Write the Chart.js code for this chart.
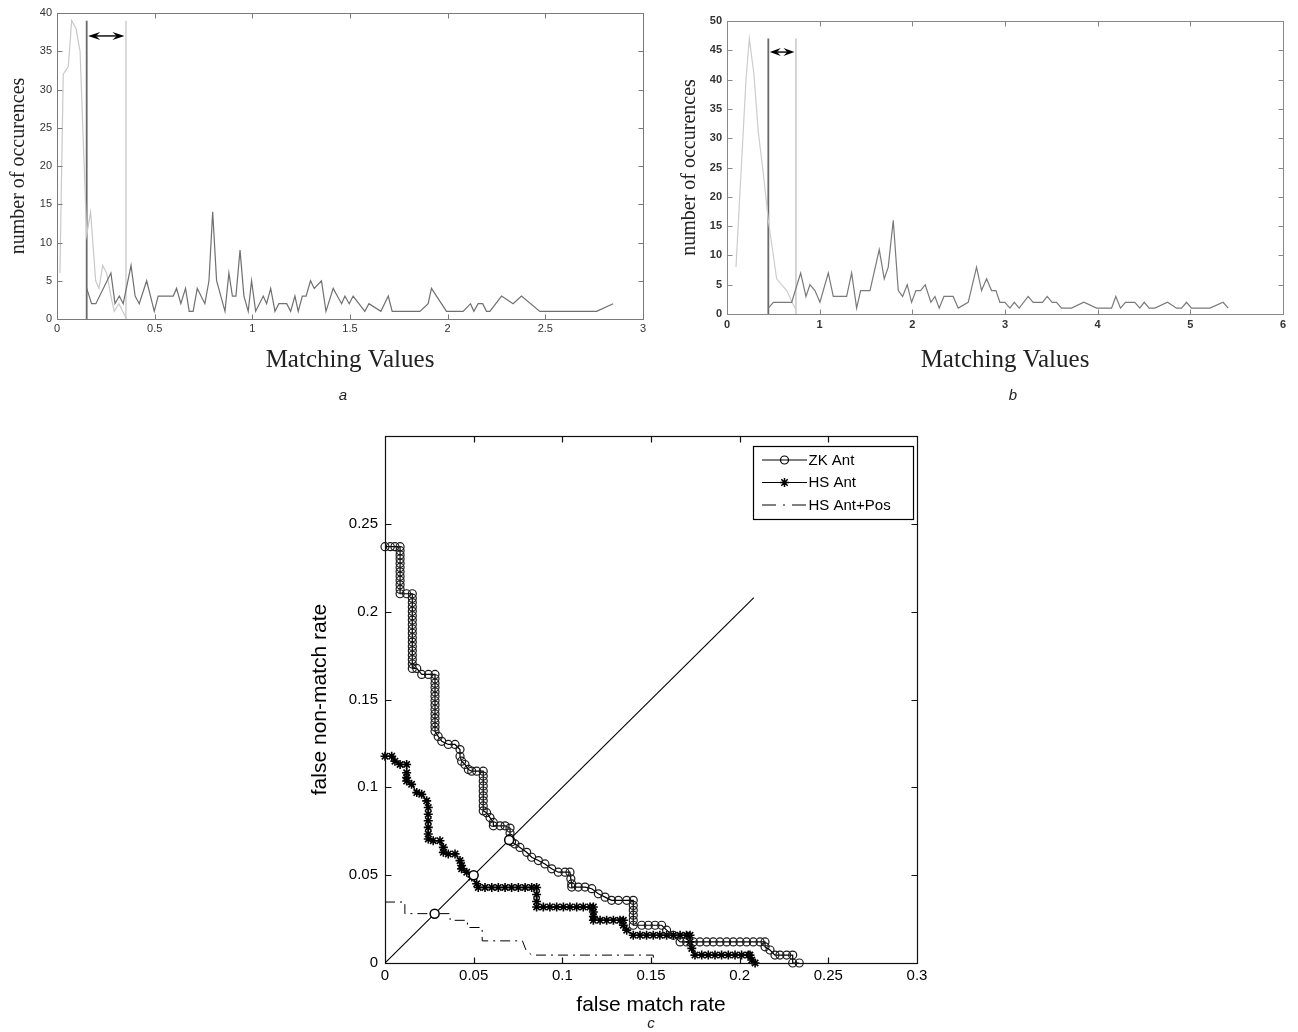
<!DOCTYPE html>
<html><head><meta charset="utf-8">
<script src="https://cdn.jsdelivr.net/npm/chart.js@4.4.1/dist/chart.umd.min.js"></script>
<style>
html,body{margin:0;padding:0;background:#fff;width:1298px;height:1032px;overflow:hidden;position:relative;}
.box{position:absolute;}
.lab{position:absolute;font-family:"Liberation Sans",Arial,sans-serif;font-style:italic;font-size:15px;color:#222;transform:translateX(-50%);line-height:18px;}
</style></head><body>
<div class="box" style="left:0;top:0;width:670px;height:410px"><canvas id="ca"></canvas></div>
<div class="box" style="left:670px;top:0;width:628px;height:410px"><canvas id="cb"></canvas></div>
<div class="box" style="left:290px;top:420px;width:650px;height:612px"><canvas id="cc"></canvas></div>
<div class="lab" style="left:343px;top:386px">a</div>
<div class="lab" style="left:1013px;top:386px">b</div>
<div class="lab" style="left:651px;top:1014px">c</div>
<script>
// ---------- Panel a data ----------
const aLightX = [0.015,0.032,0.058,0.075,0.097,0.118,0.152,0.172,0.198,0.215,0.234,0.254,0.276,0.293,0.317,0.336,0.356];
const aLightY = [6,32,33,39,38,35,11,14,5,4,7,6,3,1,2,1,0];
const aDarkX = [0.152,0.177,0.199,0.276,0.297,0.319,0.339,0.379,0.4,0.421,0.459,0.498,0.518,0.595,0.612,0.634,0.658,0.677,0.697,0.718,0.757,0.778,0.797,0.817,0.86,0.88,0.898,0.916,0.937,0.957,0.979,0.996,1.017,1.056,1.073,1.094,1.116,1.136,1.176,1.196,1.218,1.235,1.256,1.275,1.298,1.317,1.354,1.377,1.414,1.435,1.457,1.474,1.496,1.516,1.576,1.597,1.658,1.696,1.716,1.858,1.9,1.917,1.994,2.079,2.117,2.134,2.156,2.179,2.199,2.216,2.276,2.335,2.378,2.472,2.762,2.847];
const aDarkY = [4,2,2,6,2,3,2,7,3,2,5,1,3,3,4,2,4,1,1,4,2,5,14,5,1,6,3,3,9,3,1,5,1,3,2,4,1,2,2,1,3,1,3,3,5,4,5,1,4,3,2,3,2,3,1,2,1,3,1,1,2,4,1,1,2,1,2,2,1,1,3,2,3,1,1,2];
const aThresholds = [0.152, 0.353];
const aThresholdTop = 39;
const aArrowY = 37;
const aXTicks = [0, 3, 0.5];
const aYTicks = [0, 40, 5];

// ---------- Panel b data ----------
const bLightX = [0.097,0.205,0.241,0.29,0.338,0.392,0.446,0.536,0.644,0.734];
const bLightY = [8,40,47,41,31,24,16,6,4,1];
const bDarkX = [0.446,0.5,0.698,0.795,0.852,0.895,0.949,1.003,1.093,1.147,1.291,1.345,1.399,1.442,1.543,1.643,1.697,1.74,1.794,1.848,1.895,1.945,1.992,2.039,2.089,2.139,2.2,2.244,2.29,2.341,2.441,2.495,2.603,2.693,2.747,2.801,2.855,2.902,2.945,2.999,3.053,3.1,3.153,3.25,3.304,3.405,3.455,3.509,3.556,3.61,3.718,3.851,3.988,4.15,4.196,4.246,4.3,4.401,4.455,4.502,4.556,4.617,4.754,4.851,4.905,4.959,5.013,5.21,5.354,5.408];
const bDarkY = [1,2,2,7,3,5,4,2,7,3,3,7,1,4,4,11,6,8,16,4,3,5,2,4,4,5,2,3,1,3,3,1,2,8,4,6,4,4,2,2,1,2,1,3,2,2,3,2,2,1,1,2,1,1,3,1,2,2,1,2,1,1,2,1,1,2,1,1,2,1];
const bThresholds = [0.446, 0.744];
const bThresholdTop = 47;
const bArrowY = 44.7;
const bXTicks = [0, 6, 1];
const bYTicks = [0, 50, 5];

// ---------- Panel c data (false match rate, false non-match rate) ----------
const zkAnt = [[0,0.237],[0.003,0.237],[0.0056,0.237],[0.0085,0.237],
 [0.0085,0.2347],[0.0085,0.2323],[0.0085,0.23],[0.0085,0.2276],[0.0085,0.2252],[0.0085,0.2227],[0.0085,0.2202],[0.0085,0.2178],[0.0085,0.2153],[0.0085,0.2127],[0.0085,0.2102],
 [0.0122,0.2102],[0.0154,0.2102],
 [0.0154,0.2077],[0.0154,0.2052],[0.0154,0.2027],[0.0154,0.2002],[0.0154,0.1977],[0.0154,0.1952],[0.0154,0.1927],[0.0154,0.1902],[0.0154,0.1877],[0.0154,0.1852],[0.0154,0.1827],[0.0154,0.1802],[0.0154,0.1777],[0.0154,0.1752],[0.0154,0.1727],[0.0154,0.1702],[0.0154,0.1677],
 [0.0179,0.1677],[0.0207,0.1643],[0.0245,0.1643],[0.0282,0.1643],
 [0.0282,0.1618],[0.0282,0.1593],[0.0282,0.1568],[0.0282,0.1543],[0.0282,0.1518],[0.0282,0.1493],[0.0282,0.1468],[0.0282,0.1443],[0.0282,0.1418],[0.0282,0.1393],[0.0282,0.1368],[0.0282,0.1343],[0.0282,0.1319],
 [0.03,0.129],[0.032,0.1262],[0.0357,0.1244],[0.0395,0.1244],[0.0423,0.1215],[0.0423,0.1177],[0.0432,0.1149],[0.0451,0.113],[0.047,0.1102],[0.0489,0.1092],[0.0517,0.1092],[0.0554,0.1092],
 [0.0554,0.1064],[0.0554,0.1036],[0.0554,0.1008],[0.0554,0.0979],[0.0554,0.0951],[0.0554,0.0923],[0.0554,0.0894],[0.0554,0.0866],
 [0.0573,0.0856],[0.0592,0.0828],[0.0611,0.08],[0.0611,0.0781],[0.0649,0.0781],[0.0677,0.0781],[0.0705,0.0768],[0.0705,0.074],[0.0705,0.071],[0.0714,0.069],
 [0.0733,0.0678],[0.0761,0.0658],[0.0799,0.063],[0.0827,0.0602],[0.0865,0.0583],[0.0902,0.0564],[0.094,0.0536],[0.0977,0.0517],[0.1015,0.0517],[0.1043,0.0517],[0.1048,0.0479],[0.1053,0.045],[0.1053,0.0432],
 [0.109,0.0432],[0.1128,0.0432],[0.1166,0.0423],[0.1203,0.0394],[0.1241,0.0375],[0.1278,0.0357],[0.1316,0.0357],[0.1363,0.0357],[0.14,0.0357],
 [0.14,0.0328],[0.14,0.03],[0.14,0.0272],[0.14,0.0243],[0.14,0.0215],
 [0.1448,0.0215],[0.1485,0.0215],[0.1523,0.0215],[0.156,0.0215],[0.1588,0.0187],[0.1626,0.0158],[0.1664,0.012],
 [0.1701,0.012],[0.1739,0.012],[0.1776,0.012],[0.1814,0.012],[0.1851,0.012],[0.1889,0.012],[0.1927,0.012],[0.1964,0.012],[0.2002,0.012],[0.2039,0.012],[0.2077,0.012],[0.2115,0.012],[0.2143,0.012],
 [0.2143,0.0092],[0.2171,0.0074],[0.2199,0.0045],[0.2227,0.0045],[0.2265,0.0045],[0.2299,0.0045],[0.2299,0],[0.2336,0]];
const hsAnt = [[0,0.1177],[0.0038,0.1177],[0.0056,0.1149],[0.0085,0.113],[0.0122,0.113],[0.0122,0.1083],[0.0122,0.1055],[0.0122,0.1036],[0.015,0.1017],[0.0179,0.097],[0.0207,0.096],[0.0235,0.0923],
 [0.0244,0.0885],[0.0244,0.0847],[0.0244,0.081],[0.0244,0.0772],[0.0244,0.0734],[0.0244,0.0706],[0.0272,0.0696],[0.031,0.0696],[0.0329,0.0658],[0.0329,0.063],[0.0357,0.0621],[0.0395,0.0621],
 [0.0423,0.0583],[0.0432,0.0555],[0.0432,0.0536],[0.0461,0.0517],[0.049,0.049],[0.0517,0.0451],[0.0526,0.043],
 [0.0564,0.043],[0.0602,0.043],[0.0639,0.043],[0.0677,0.043],[0.0714,0.043],[0.0752,0.043],[0.079,0.043],[0.0827,0.043],[0.0855,0.043],
 [0.0855,0.039],[0.0855,0.035],[0.0855,0.0319],
 [0.0893,0.0319],[0.093,0.0319],[0.0968,0.0319],[0.1006,0.0319],[0.1043,0.0319],[0.1081,0.0319],[0.1118,0.0319],[0.1156,0.0319],[0.1175,0.0319],
 [0.1175,0.029],[0.1175,0.0265],[0.1175,0.0243],
 [0.1213,0.0243],[0.125,0.0243],[0.1288,0.0243],[0.1325,0.0243],[0.1344,0.0243],[0.1344,0.0215],[0.1363,0.0187],[0.14,0.0158],
 [0.1438,0.0158],[0.1475,0.0158],[0.1513,0.0158],[0.155,0.0158],[0.1588,0.0158],[0.1626,0.0158],[0.1664,0.0158],[0.17,0.0158],[0.172,0.0158],
 [0.172,0.012],[0.173,0.0083],[0.1748,0.0045],
 [0.1786,0.0045],[0.1823,0.0045],[0.1861,0.0045],[0.1898,0.0045],[0.1936,0.0045],[0.1974,0.0045],[0.2011,0.0045],[0.2049,0.0045],[0.2058,0.0045],[0.2068,0.0017],[0.2087,0]];
const hsAntPos = [[0,0.0347],[0.0112,0.0347],[0.0112,0.0281],[0.0367,0.0281],[0.0367,0.0243],[0.0465,0.0243],[0.0465,0.0202],[0.0548,0.0202],[0.0548,0.0126],[0.0775,0.0126],[0.0795,0.0074],[0.0827,0.0045],[0.1513,0.0045],[0.1513,0]];
const eerPoints = [[0.028,0.028],[0.05,0.05],[0.07,0.07]];
const diagonal = [[0,0],[0.208,0.208]];
const cLegend = ["ZK Ant","HS Ant","HS Ant+Pos"];
const cXTicks = [0, 0.3, 0.05];
const cYTicks = [0, 0.3, 0.05];

// ---------- helpers ----------
const zip = (xs, ys) => xs.map((v, i) => ({x: v, y: ys[i]}));
const pairs = arr => arr.map(p => ({x: p[0], y: p[1]}));
const vline = (xv, top) => [{x: xv, y: 0}, {x: xv, y: top}];
const fmt = v => String(Math.round(v * 100) / 100);
Chart.defaults.font.family = '"Liberation Sans", Arial, sans-serif';

const framePlugin = {
  id: 'frame',
  afterDraw(chart, args, o) {
    const {ctx, chartArea: a, scales: {x, y}} = chart;
    const L = Math.round(a.left) + 0.5, R = Math.round(a.right) + 0.5, T = Math.round(a.top) + 0.5, B = Math.round(a.bottom) + 0.5;
    ctx.save();
    ctx.strokeStyle = o.color; ctx.lineWidth = o.width;
    ctx.strokeRect(L, T, R - L, B - T);
    ctx.beginPath();
    x.ticks.forEach(t => {
      const p = Math.round(x.getPixelForValue(t.value)) + 0.5;
      if (p <= L + 1 || p >= R - 1) return;
      ctx.moveTo(p, B); ctx.lineTo(p, B - o.len);
      ctx.moveTo(p, T); ctx.lineTo(p, T + o.len);
    });
    y.ticks.forEach(t => {
      const p = Math.round(y.getPixelForValue(t.value)) + 0.5;
      if (p <= T + 1 || p >= B - 1) return;
      ctx.moveTo(L, p); ctx.lineTo(L + o.len, p);
      ctx.moveTo(R, p); ctx.lineTo(R - o.len, p);
    });
    ctx.stroke();
    ctx.restore();
  }
};

const arrowPlugin = {
  id: 'thrArrow',
  afterDatasetsDraw(chart, args, o) {
    const {ctx, scales: {x, y}} = chart;
    const x1 = x.getPixelForValue(o.x1), x2 = x.getPixelForValue(o.x2), yy = y.getPixelForValue(o.y);
    ctx.save();
    ctx.strokeStyle = '#000'; ctx.fillStyle = '#000'; ctx.lineWidth = 1.4;
    ctx.beginPath(); ctx.moveTo(x1 + 4, yy); ctx.lineTo(x2 - 4, yy); ctx.stroke();
    const head = (tip, dir) => {
      ctx.beginPath();
      ctx.moveTo(tip, yy);
      ctx.lineTo(tip + dir * o.len, yy - o.half);
      ctx.lineTo(tip + dir * o.len * 0.65, yy);
      ctx.lineTo(tip + dir * o.len, yy + o.half);
      ctx.closePath(); ctx.fill();
    };
    head(x1 + 1.5, 1); head(x2 - 1.5, -1);
    ctx.restore();
  }
};

const legendPlugin = {
  id: 'matLegend',
  afterDraw(chart, args, o) {
    const {ctx, chartArea: a} = chart;
    const bx = a.right - 4 - o.w, by = a.top + 10;
    ctx.save();
    ctx.fillStyle = '#fff';
    ctx.fillRect(bx, by, o.w, o.h);
    ctx.strokeStyle = '#000'; ctx.lineWidth = 1.2;
    ctx.strokeRect(Math.round(bx) + 0.5, Math.round(by) + 0.5, o.w, o.h);
    ctx.font = '15px "Liberation Sans", Arial, sans-serif';
    ctx.textBaseline = 'middle'; ctx.fillStyle = '#000';
    const rows = [14, 36.5, 59];
    o.labels.forEach((lab, i) => {
      const yy = by + rows[i];
      const x0 = bx + 9, x1 = bx + 54, xm = (x0 + x1) / 2;
      ctx.lineWidth = 1;
      ctx.setLineDash(i === 2 ? [14, 7, 2, 7] : []);
      ctx.beginPath(); ctx.moveTo(x0, yy); ctx.lineTo(x1, yy); ctx.stroke();
      ctx.setLineDash([]);
      if (i === 0) { ctx.lineWidth = 1.2; ctx.beginPath(); ctx.arc(xm, yy, 4, 0, Math.PI * 2); ctx.stroke(); }
      if (i === 1) {
        ctx.lineWidth = 1.5; ctx.beginPath();
        const r = 4.5;
        ctx.moveTo(xm - r, yy); ctx.lineTo(xm + r, yy);
        ctx.moveTo(xm, yy - r); ctx.lineTo(xm, yy + r);
        const d = r * 0.707;
        ctx.moveTo(xm - d, yy - d); ctx.lineTo(xm + d, yy + d);
        ctx.moveTo(xm - d, yy + d); ctx.lineTo(xm + d, yy - d);
        ctx.stroke();
      }
      ctx.fillText(lab, bx + 55.5, yy + 0.5);
    });
    ctx.restore();
  }
};

function histChart(id, cfg) {
  return new Chart(document.getElementById(id), {
    type: 'scatter',
    data: {datasets: [
      {data: zip(cfg.darkX, cfg.darkY), showLine: true, borderColor: cfg.darkColor, borderWidth: 1.2, pointRadius: 0, order: 1},
      {data: zip(cfg.lightX, cfg.lightY), showLine: true, borderColor: cfg.lightColor, borderWidth: 1.2, pointRadius: 0, order: 2},
      {data: vline(cfg.thr[0], cfg.thrTop), showLine: true, borderColor: cfg.darkVColor, borderWidth: 1.8, pointRadius: 0, order: 3},
      {data: vline(cfg.thr[1], cfg.thrTop), showLine: true, borderColor: cfg.lightVColor, borderWidth: 1.5, pointRadius: 0, order: 4}
    ]},
    plugins: [framePlugin, arrowPlugin],
    options: {
      responsive: true, maintainAspectRatio: false, animation: false, events: [],
      layout: {padding: cfg.pad},
      plugins: {
        legend: {display: false}, tooltip: {enabled: false},
        frame: {color: cfg.boxColor, width: 1, len: 5},
        thrArrow: {x1: cfg.thr[0], x2: cfg.thr[1], y: cfg.arrowY, len: cfg.headLen, half: 4}
      },
      scales: {
        x: {type: 'linear', min: cfg.xt[0], max: cfg.xt[1],
          ticks: {stepSize: cfg.xt[2], color: '#333', font: {size: 11, weight: cfg.tickWeight}, padding: cfg.xPad, maxRotation: 0, autoSkip: false, callback: fmt},
          grid: {display: false, drawTicks: false}, border: {display: false},
          title: {display: true, text: 'Matching Values', color: '#222', font: {family: '"Liberation Serif", "Times New Roman", serif', size: 25}, padding: {top: 0, bottom: 35}},
          afterFit(s) { s.height = cfg.xH; }},
        y: {type: 'linear', min: cfg.yt[0], max: cfg.yt[1],
          ticks: {stepSize: cfg.yt[2], color: '#333', font: {size: 11, weight: cfg.tickWeight}, padding: 5, autoSkip: false, callback: fmt},
          grid: {display: false, drawTicks: false}, border: {display: false},
          title: {display: true, text: 'number of occurences', color: '#222', font: {family: '"Liberation Serif", "Times New Roman", serif', size: 20}, padding: {top: cfg.yTitlePad, bottom: 0}},
          afterFit(s) { s.width = 57; }}
      }
    }
  });
}

histChart('ca', {
  darkX: aDarkX, darkY: aDarkY, lightX: aLightX, lightY: aLightY,
  thr: aThresholds, thrTop: aThresholdTop, arrowY: aArrowY, xt: aXTicks, yt: aYTicks,
  darkColor: '#707070', lightColor: '#c9c9c9', darkVColor: '#6a6a6a', lightVColor: '#cfcfcf', boxColor: '#7a7a7a',
  pad: {top: 13, right: 27, left: 0, bottom: 0}, xH: 91, xPad: 3, yTitlePad: 6.5, headLen: 12, tickWeight: 'normal'
});
histChart('cb', {
  darkX: bDarkX, darkY: bDarkY, lightX: bLightX, lightY: bLightY,
  thr: bThresholds, thrTop: bThresholdTop, arrowY: bArrowY, xt: bXTicks, yt: bYTicks,
  darkColor: '#7a7a7a', lightColor: '#cdcdcd', darkVColor: '#6a6a6a', lightVColor: '#c8c8c8', boxColor: '#888888',
  pad: {top: 21, right: 15, left: 0, bottom: 0}, xH: 96, xPad: 4, yTitlePad: 8, headLen: 11, tickWeight: 'bold'
});

new Chart(document.getElementById('cc'), {
  type: 'scatter',
  data: {datasets: [
    {data: pairs(eerPoints), showLine: false, pointRadius: 4.5, pointStyle: 'circle', pointBackgroundColor: '#fff', pointBorderColor: '#000', pointBorderWidth: 1.5, order: 0, clip: false},
    {label: cLegend[0], data: pairs(zkAnt), showLine: true, borderColor: '#000', borderWidth: 1.2, pointStyle: 'circle', pointRadius: 4, pointBackgroundColor: 'rgba(0,0,0,0)', pointBorderColor: '#1a1a1a', pointBorderWidth: 1.2, order: 2, clip: false},
    {label: cLegend[1], data: pairs(hsAnt), showLine: true, borderColor: '#000', borderWidth: 1.2, pointStyle: 'star', pointRadius: 4.5, pointBorderColor: '#000', pointBorderWidth: 1.6, order: 3, clip: false},
    {label: cLegend[2], data: pairs(hsAntPos), showLine: true, borderColor: '#000', borderWidth: 1, borderDash: [10, 5, 2, 5], pointRadius: 0, order: 4, clip: false},
    {data: pairs(diagonal), showLine: true, borderColor: '#000', borderWidth: 1.1, pointRadius: 0, order: 5}
  ]},
  plugins: [framePlugin, legendPlugin],
  options: {
    responsive: true, maintainAspectRatio: false, animation: false, events: [],
    layout: {padding: {top: 13, right: 23, left: 0, bottom: 0}},
    plugins: {
      legend: {display: false}, tooltip: {enabled: false},
      frame: {color: '#111', width: 1.2, len: 6},
      matLegend: {labels: cLegend, w: 160, h: 73}
    },
    scales: {
      x: {type: 'linear', min: cXTicks[0], max: cXTicks[1],
        ticks: {stepSize: cXTicks[2], color: '#000', font: {size: 15}, padding: 4, maxRotation: 0, autoSkip: false, callback: fmt},
        grid: {display: false, drawTicks: false}, border: {display: false},
        title: {display: true, text: 'false match rate', color: '#000', font: {size: 21}, padding: {top: 0, bottom: 14.4}},
        afterFit(s) { s.height = 69; }},
      y: {type: 'linear', min: cYTicks[0], max: cYTicks[1],
        ticks: {stepSize: cYTicks[2], color: '#000', font: {size: 15}, padding: 7, autoSkip: false,
          callback: v => v > 0.29 ? '' : fmt(v)},
        grid: {display: false, drawTicks: false}, border: {display: false},
        title: {display: true, text: 'false non-match rate', color: '#000', font: {size: 21}, padding: {top: 17.4, bottom: 0}},
        afterFit(s) { s.width = 95; }}
    }
  }
});
</script>
</body></html>
